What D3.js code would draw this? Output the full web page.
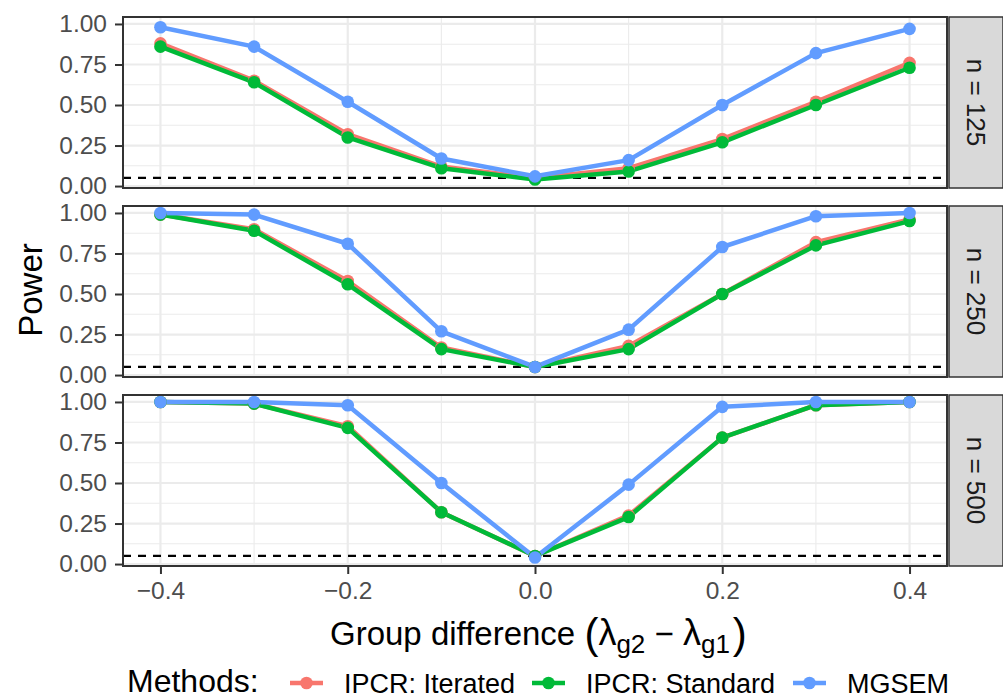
<!DOCTYPE html>
<html>
<head>
<meta charset="utf-8">
<script src="https://cdn.jsdelivr.net/npm/d3@7"></script>
<style>
  html, body { margin: 0; padding: 0; background: #fff; }
  svg { display: block; font-family: "Liberation Sans", Arial, sans-serif; }
</style>
</head>
<body>
<svg id="chart" width="1003" height="699"></svg>
<script>
// ---- data ----
const groupDiff = [-0.4, -0.3, -0.2, -0.1, 0.0, 0.1, 0.2, 0.3, 0.4];
const sampleSizes = ["n = 125", "n = 250", "n = 500"];
const methods = ["IPCR: Iterated", "IPCR: Standard", "MGSEM"];
const methodColors = ["#F8766D", "#00BA38", "#619CFF"];

const iterated125 = [0.88, 0.65, 0.32, 0.12, 0.05, 0.11, 0.29, 0.52, 0.76];
const standard125 = [0.86, 0.64, 0.30, 0.11, 0.04, 0.09, 0.27, 0.50, 0.73];
const mgsem125    = [0.98, 0.86, 0.52, 0.17, 0.06, 0.16, 0.50, 0.82, 0.97];

const iterated250 = [0.99, 0.90, 0.58, 0.17, 0.05, 0.18, 0.50, 0.82, 0.96];
const standard250 = [0.99, 0.89, 0.56, 0.16, 0.05, 0.16, 0.50, 0.80, 0.95];
const mgsem250    = [1.00, 0.99, 0.81, 0.27, 0.05, 0.28, 0.79, 0.98, 1.00];

const iterated500 = [1.00, 0.99, 0.85, 0.32, 0.05, 0.30, 0.78, 0.98, 1.00];
const standard500 = [1.00, 0.99, 0.84, 0.32, 0.05, 0.29, 0.78, 0.98, 1.00];
const mgsem500    = [1.00, 1.00, 0.98, 0.50, 0.04, 0.49, 0.97, 1.00, 1.00];

const xTicks = [-0.4, -0.2, 0.0, 0.2, 0.4];
const xMinor = [-0.3, -0.1, 0.1, 0.3];
const yTicks = [0, 0.25, 0.5, 0.75, 1.0];
const yMinor = [0.125, 0.375, 0.625, 0.875];
const alphaLevel = 0.05;

const panelSeries = [
  [iterated125, standard125, mgsem125],
  [iterated250, standard250, mgsem250],
  [iterated500, standard500, mgsem500]
];

// ---- layout ----
const svg = d3.select("#chart");
const L = 123, R = 947, panelH = 171;
const panelTops = [17, 206, 395];
const stripW = 54;

const x = d3.scaleLinear().domain([-0.44, 0.44]).range([L, R]);
const y = d3.scaleLinear().domain([-0.012, 1.043]).range([panelH, 0]);
const fmtX = v => (v < 0 ? "\u2212" : "") + Math.abs(v).toFixed(1);

panelTops.forEach((top, pi) => {
  const g = svg.append("g").attr("transform", `translate(0,${top})`);
  g.append("rect").attr("x", L).attr("y", 0).attr("width", R - L).attr("height", panelH).attr("fill", "#fff");
  // minor grid
  g.selectAll(".ym").data(yMinor).enter().append("line")
    .attr("x1", L).attr("x2", R).attr("y1", d => y(d)).attr("y2", d => y(d))
    .attr("stroke", "#EBEBEB").attr("stroke-width", 1.1);
  g.selectAll(".xm").data(xMinor).enter().append("line")
    .attr("y1", 0).attr("y2", panelH).attr("x1", d => x(d)).attr("x2", d => x(d))
    .attr("stroke", "#EBEBEB").attr("stroke-width", 1.1);
  // major grid
  g.selectAll(".yM").data(yTicks).enter().append("line")
    .attr("x1", L).attr("x2", R).attr("y1", d => y(d)).attr("y2", d => y(d))
    .attr("stroke", "#EBEBEB").attr("stroke-width", 2.2);
  g.selectAll(".xM").data(xTicks).enter().append("line")
    .attr("y1", 0).attr("y2", panelH).attr("x1", d => x(d)).attr("x2", d => x(d))
    .attr("stroke", "#EBEBEB").attr("stroke-width", 2.2);

  // dashed reference line
  g.append("line").attr("x1", L).attr("x2", R)
    .attr("y1", y(alphaLevel)).attr("y2", y(alphaLevel))
    .attr("stroke", "#000").attr("stroke-width", 2.2).attr("stroke-dasharray", "8,7");

  const line = d3.line().x((d, i) => x(groupDiff[i])).y(d => y(d));
  const series = panelSeries[pi];
  series.forEach((vals, si) => {
    g.append("path").datum(vals).attr("d", line)
      .attr("fill", "none").attr("stroke", methodColors[si]).attr("stroke-width", 4.5)
      .attr("stroke-linejoin", "round");
  });
  series.forEach((vals, si) => {
    g.selectAll(null).data(vals).enter().append("circle")
      .attr("cx", (d, i) => x(groupDiff[i])).attr("cy", d => y(d)).attr("r", 6.3)
      .attr("fill", methodColors[si]);
  });

  // border
  g.append("rect").attr("x", L).attr("y", 0).attr("width", R - L).attr("height", panelH)
    .attr("fill", "none").attr("stroke", "#333").attr("stroke-width", 2);

  // y axis
  const yAxis = d3.axisLeft(y).tickValues(yTicks).tickFormat(d3.format(".2f")).tickSize(7).tickPadding(8);
  const ya = g.append("g").attr("transform", `translate(${L - 1},0)`).call(yAxis);
  ya.select(".domain").remove();
  ya.selectAll(".tick line").attr("stroke", "#333").attr("stroke-width", 2);
  ya.selectAll(".tick text").attr("fill", "#4D4D4D").attr("font-size", 24.5)
    .attr("font-family", "Liberation Sans, Arial, sans-serif");

  // strip
  g.append("rect").attr("x", R + 2).attr("y", 0).attr("width", stripW).attr("height", panelH)
    .attr("fill", "#D9D9D9").attr("stroke", "#333").attr("stroke-width", 1.5);
  g.append("text").attr("transform", `translate(${R + 2 + 27},${panelH / 2}) rotate(90)`)
    .attr("text-anchor", "middle").attr("dominant-baseline", "central")
    .attr("font-size", 26).attr("fill", "#1A1A1A").text(sampleSizes[pi]);

  // x axis on bottom panel
  if (pi === panelTops.length - 1) {
    const xAxis = d3.axisBottom(x).tickValues(xTicks).tickFormat(fmtX).tickSize(7).tickPadding(8);
    const xa = g.append("g").attr("transform", `translate(0,${panelH + 1})`).call(xAxis);
    xa.select(".domain").remove();
    xa.selectAll(".tick line").attr("stroke", "#333").attr("stroke-width", 2);
    xa.selectAll(".tick text").attr("fill", "#4D4D4D").attr("font-size", 24.5)
      .attr("font-family", "Liberation Sans, Arial, sans-serif");
  }
});

// y axis title
svg.append("text").attr("transform", "translate(42,290) rotate(-90)")
  .attr("text-anchor", "middle").attr("font-size", 33).attr("fill", "#000").text("Power");

// x axis title with math
const xt = svg.append("text").attr("x", 330).attr("y", 645).attr("font-size", 33).attr("fill", "#000");
xt.append("tspan").text("Group difference ");
xt.append("tspan").attr("font-size", 42).attr("dy", 3).text("(");
xt.append("tspan").attr("dy", -3).attr("font-size", 36).text("\u03bb");
xt.append("tspan").attr("font-size", 26).attr("dy", 8).text("g2");
xt.append("tspan").attr("dy", -8).text(" \u2212 ");
xt.append("tspan").attr("font-size", 36).text("\u03bb");
xt.append("tspan").attr("font-size", 26).attr("dy", 8).text("g1");
xt.append("tspan").attr("font-size", 42).attr("dx", 3).attr("dy", -5).text(")");

// legend
svg.append("text").attr("x", 127).attr("y", 692).attr("font-size", 32).attr("fill", "#000").text("Methods:");
const legendKeyX = [290, 532, 793];
methods.forEach((m, i) => {
  const kx = legendKeyX[i];
  svg.append("line").attr("x1", kx).attr("x2", kx + 33).attr("y1", 683).attr("y2", 683)
    .attr("stroke", methodColors[i]).attr("stroke-width", 4.5);
  svg.append("circle").attr("cx", kx + 16.5).attr("cy", 683).attr("r", 6.3).attr("fill", methodColors[i]);
  svg.append("text").attr("x", kx + 54).attr("y", 693).attr("font-size", 27).attr("fill", "#000").text(m);
});
</script>
</body>
</html>
